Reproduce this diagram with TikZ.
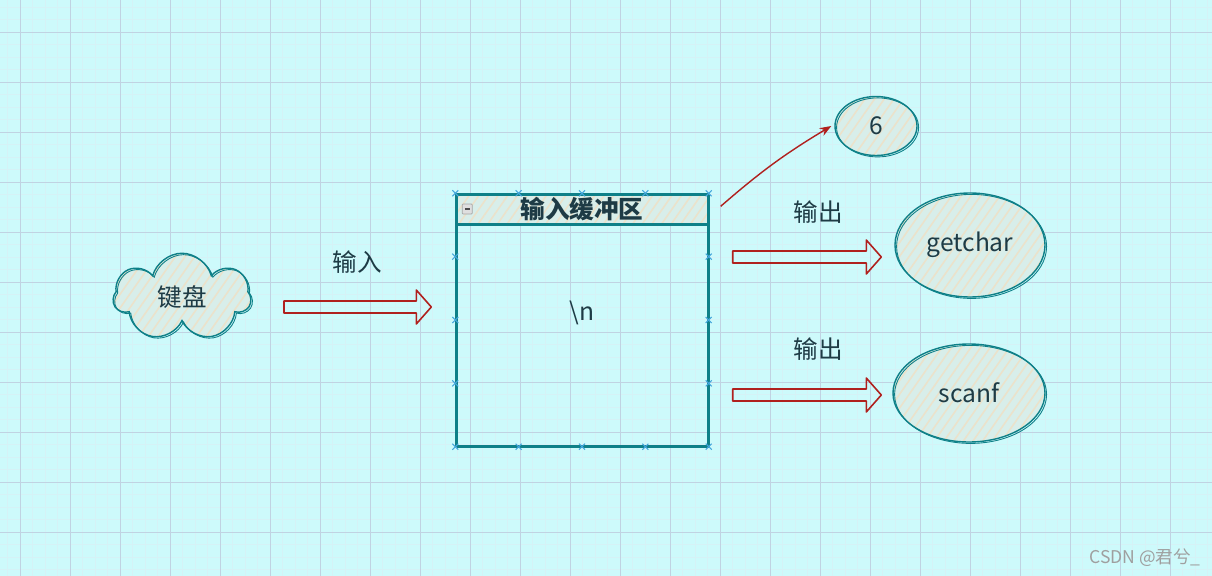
\documentclass[tikz,border=0pt]{standalone}
\usepackage{fontspec}
\setmainfont{Noto Sans CJK SC}
\usepackage{tikz}
\usetikzlibrary{arrows.meta,positioning,calc,shapes.geometric,shapes.symbols,patterns.meta}
\definecolor{cBg}{HTML}{CDFAFB}
\definecolor{cMajor}{HTML}{C0D3E2}
\definecolor{cMinor}{HTML}{D5F2F6}
\definecolor{cTeal}{HTML}{0E8088}
\definecolor{cRed}{HTML}{B0201E}
\definecolor{cFill}{HTML}{D8EEEA}
\definecolor{cHatch}{HTML}{EBE2CB}
\definecolor{cInk}{HTML}{1E3B45}
\definecolor{cMark}{HTML}{44A6DC}
\tikzset{
  >=Stealth,
  txt/.style   ={text=cInk,font=\fontsize{14}{16}\selectfont},
  sketch/.style={txt,draw=cTeal,line width=0.8pt,preaction={fill=cFill},
                 pattern={Lines[angle=55,distance=4.5pt,line width=0.9pt]},pattern color=cHatch,
                 postaction={draw=cTeal,line width=0.5pt,transform canvas={shift={(0.9pt,-0.8pt)}}}},
  blob/.style  ={sketch,ellipse,inner sep=0pt},
  lbl/.style   ={txt},
  handle/.style={draw=cMark,line width=0.6pt},
  fat/.style   ={draw=cRed,line width=0.9pt,line join=round,
                 to path={($(\tikztostart)+(0,.12)$) -- ($(\tikztotarget)+(-.3,.12)$)
                   -- ($(\tikztotarget)+(-.3,.34)$) -- (\tikztotarget)
                   -- ($(\tikztotarget)+(-.3,-.34)$) -- ($(\tikztotarget)+(-.3,-.12)$)
                   -- ($(\tikztostart)+(0,-.12)$) -- cycle}},
}
\begin{document}
\begin{tikzpicture}
\useasboundingbox (0,0) rectangle (24.24,-11.52);
% paper with grid
\fill[cBg] (0,0) rectangle (24.24,-11.52);
\begin{scope}
  \clip (0,0) rectangle (24.24,-11.52);
  \draw[cMinor,line width=0.4pt,shift={(0.4,-0.64)}] (-1,-12) grid[step=0.25] (24,1);
  \draw[cMajor,line width=0.5pt,shift={(0.4,-0.64)}] (-1,-12) grid[step=1] (24,1);
\end{scope}

\node[sketch,cloud,cloud puffs=7,aspect=1.8,minimum width=2.75cm,minimum height=1.75cm,inner sep=0pt]
  (kb) at (3.64,-5.94) {键盘};

% buffer window
\node[draw=cTeal,line width=0.8pt,minimum width=5.04cm,minimum height=5.04cm,
  postaction={draw=cTeal,line width=0.5pt,transform canvas={shift={(0.8pt,-0.9pt)}}}]
  (buf) at (11.64,-6.4) {};
\node[sketch,rectangle,minimum width=5.04cm,minimum height=0.6cm,anchor=north,inner sep=0pt,
  font=\fontsize{14}{16}\selectfont\bfseries] (head) at (buf.north) {输入缓冲区};
\node[draw=gray!70,fill=gray!25,rounded corners=0.5pt,minimum size=0.2cm,inner sep=0pt]
  (btn) at ([xshift=0.24cm]head.west) {};
\draw[black!70,line width=0.8pt] ([xshift=1.6pt]btn.west) -- ([xshift=-1.6pt]btn.east);
\node[txt] (nl) at ([yshift=0.14cm]buf.center) {\textbackslash n};
\foreach \t in {0,.25,.5,.75,1}{
  \draw[handle] ($(buf.north west)!\t!(buf.north east)$) ++(-1.7pt,-1.7pt) -- ++(3.4pt,3.4pt) ++(0,-3.4pt) -- ++(-3.4pt,3.4pt);
  \draw[handle] ($(buf.south west)!\t!(buf.south east)$) ++(-1.7pt,-1.7pt) -- ++(3.4pt,3.4pt) ++(0,-3.4pt) -- ++(-3.4pt,3.4pt);
}
\foreach \t in {.25,.5,.75}{
  \draw[handle] ($(buf.north west)!\t!(buf.south west)$) ++(-1.7pt,-1.7pt) -- ++(3.4pt,3.4pt) ++(0,-3.4pt) -- ++(-3.4pt,3.4pt);
  \draw[handle] ($(buf.north east)!\t!(buf.south east)$) ++(-1.7pt,-1.7pt) -- ++(3.4pt,3.4pt) ++(0,-3.4pt) -- ++(-3.4pt,3.4pt);
}

% right side
\node[blob,minimum width=1.64cm,minimum height=1.18cm] (six) at (17.52,-2.52) {6};
\node[blob,minimum width=3.0cm,minimum height=2.08cm] (gc) at (19.4,-4.9) {getchar};
\node[blob,minimum width=3.04cm,minimum height=1.96cm] (sf) at (19.38,-7.86) {scanf};

\node[lbl] (in) at (7.14,-5.24) {输入};
\node[lbl] (out1) at (16.36,-4.24) {输出};
\node[lbl] (out2) at (16.36,-6.98) {输出};

\draw[fat] ([xshift=0.65cm,yshift=-0.2cm]kb.east) to ([xshift=-0.48cm,yshift=0.26cm]buf.west);
\draw[fat] ([xshift=0.48cm,yshift=1.26cm]buf.east) to ([xshift=-0.26cm,yshift=-0.24cm]gc.west);
\draw[fat] ([xshift=0.48cm,yshift=-1.5cm]buf.east) to ([xshift=-0.22cm,yshift=-0.04cm]sf.west);
\draw[->,cRed,line width=0.8pt] ([xshift=0.24cm,yshift=-0.26cm]buf.north east)
  to[bend left=5] ([xshift=-0.06cm]six.west);

\node[anchor=east,text=gray!75,font=\fontsize{10}{12}\selectfont] (wm) at (24.14,-11.16) {CSDN @君兮\_};
\end{tikzpicture}
\end{document}
